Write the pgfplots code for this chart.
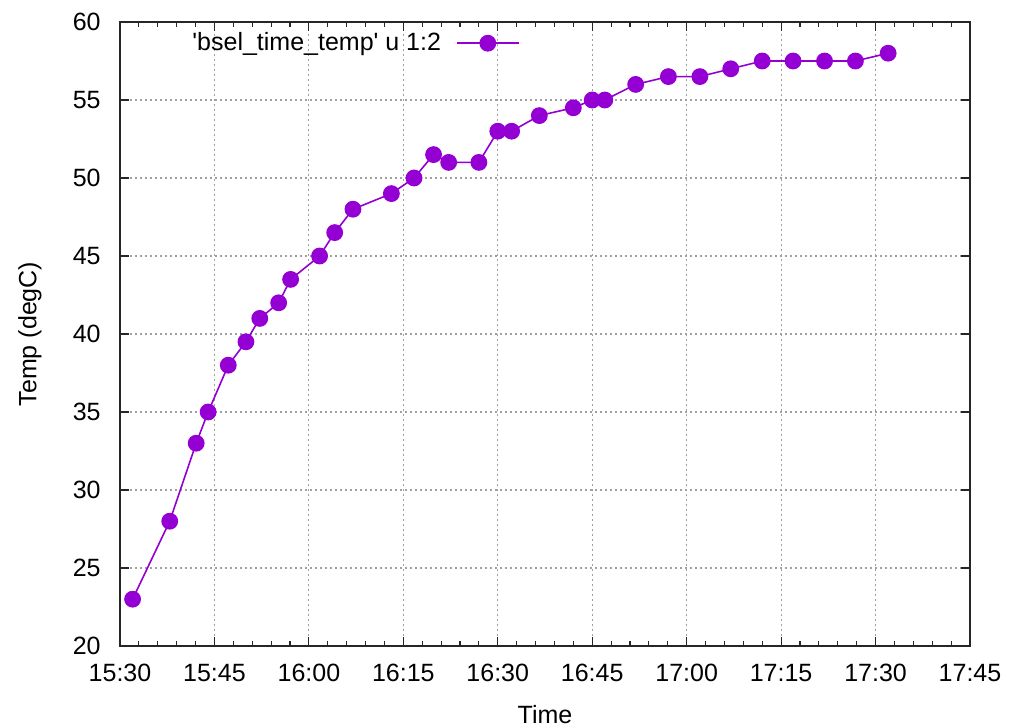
\documentclass[border=0pt]{standalone}
\usepackage{pgfplots}
\pgfplotsset{compat=1.18}
\usepackage{fontspec}
\setmainfont{Liberation Sans}
\definecolor{gpviolet}{RGB}{148,0,211}
\definecolor{gridgray}{RGB}{160,160,160}
\begin{document}
\begin{tikzpicture}
\begin{axis}[
  scale only axis,
  width=425bp, height=312bp,
  xmin=0, xmax=135, ymin=20, ymax=60,
  xtick={0,15,...,135},
  xticklabels={15:30,15:45,16:00,16:15,16:30,16:45,17:00,17:15,17:30,17:45},
  ytick={20,25,...,60},
  minor x tick num=4,
  tick align=inside,
  major tick length=4.5bp,
  minor tick length=2.5bp,
  axis line style={line width=0.6bp, black!85},
  every tick/.style={line width=0.6bp, black!85},
  grid=major,
  major grid style={gridgray, line width=0.6bp, dash pattern=on 0.8bp off 1.7bp},
  font=\fontsize{12.5bp}{15bp}\selectfont,
  /pgf/number format/assume math mode=true,
  yticklabel style={anchor=east, inner sep=0pt, xshift=-9.5bp},
  xticklabel style={anchor=center, inner sep=0pt, yshift=-13.5bp},
  xlabel={Time},
  ylabel={Temp (degC)},
  every axis x label/.style={at={(axis description cs:0.5,0)}, yshift=-34.5bp, anchor=center},
  every axis y label/.style={at={(axis description cs:0,0.5)}, xshift=-45bp, rotate=90, anchor=center},
  legend plot pos=right,
  legend style={draw=none, fill=none, inner sep=0pt, at={(0.4706,0.966)}, anchor=east},
  legend image code/.code={\path (3.5bp,0bp); \draw[mark repeat=2, mark phase=2] plot coordinates {(9bp,0bp) (24.5bp,0bp) (40bp,0bp)};},
]
\addplot[color=gpviolet, line width=0.8bp, mark=*, mark size=3.8bp, mark options={solid, fill=gpviolet, draw=gpviolet}] coordinates {
(2.0,23) (7.9,28) (12.1,33) (14.0,35) (17.2,38) (20.0,39.5) (22.2,41) (25.2,42)
(27.1,43.5) (31.7,45) (34.1,46.5) (37.0,48) (43.1,49) (46.7,50) (49.8,51.5)
(52.2,51) (57.0,51) (60.0,53) (62.2,53) (66.6,54) (72.0,54.5) (75.0,55)
(77.0,55) (81.9,56) (87.1,56.5) (92.1,56.5) (97.0,57) (102.0,57.5)
(106.9,57.5) (111.9,57.5) (116.8,57.5) (122.0,58)
};
\addlegendentry{\textquotesingle bsel\_time\_temp\textquotesingle{} u 1:2}
\end{axis}
\pgfresetboundingbox
\path (current axis.south west) ++(-60bp,-41bp) rectangle ([shift={(23.5bp,11bp)}]current axis.north east);
\end{tikzpicture}
\end{document}
